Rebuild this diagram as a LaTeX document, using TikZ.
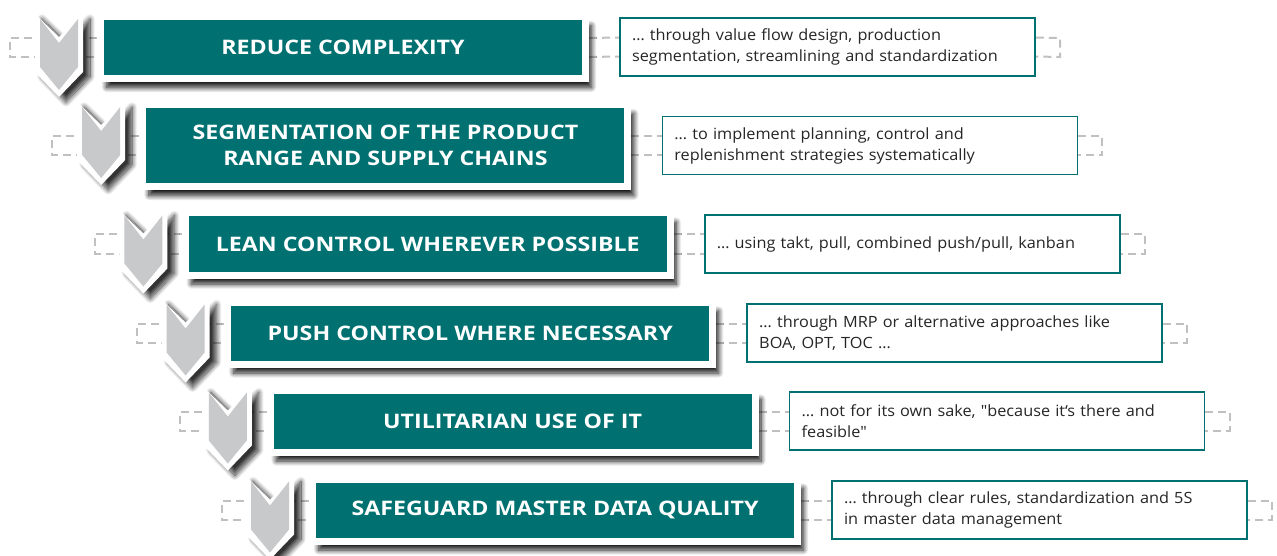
\documentclass[tikz,border=0pt]{standalone}
\usepackage{fontspec}
\setmainfont{Open Sans}
\newfontfamily\headfont[FakeStretch=1.16]{Open Sans}
\newfontfamily\notefont[FakeStretch=1.05]{Open Sans}
\usetikzlibrary{shadows.blur,backgrounds}
\definecolor{petrol}{RGB}{0,112,112}
\definecolor{chevgray}{RGB}{200,201,203}
\definecolor{bandgray}{RGB}{192,192,192}

\begin{document}
\begin{tikzpicture}[x=1pt,y=-1pt,
  title/.style={fill=petrol, draw=white, line width=7pt, minimum width=485pt, minimum height=62pt,
    text=white, align=center, font=\headfont\bfseries\fontsize{20}{26}\selectfont,
    blur shadow={shadow xshift=6pt, shadow yshift=-9pt, shadow blur radius=5pt, shadow blur steps=14, shadow opacity=90}},
  note/.style={fill=white, draw=petrol, line width=1.5pt, minimum width=415pt, minimum height=58pt,
    text width=391pt, align=left, inner xsep=12pt, text=black!85, font=\notefont\fontsize{15.5}{21}\selectfont},
  band/.style={draw=bandgray, line width=2pt, dash pattern=on 8pt off 5pt},
  chevron/.pic={
    \path[fill=white, blur shadow={shadow xshift=7pt, shadow yshift=-5pt, shadow blur radius=5pt, shadow blur steps=14, shadow opacity=80}]
      (-24,-5) -- (0,18) -- (24,-5) -- (24,53) -- (0,78) -- (-24,53) -- cycle;
    \fill[chevgray] (-19,0) -- (0,24) -- (19,0) -- (19,48) -- (0,71) -- (-19,48) -- cycle;
  }]
\useasboundingbox (0,0) rectangle (1277,556);

% row 1
\pic at (59,19) {chevron};
\node[title] (t1) at (343,47.5) {REDUCE COMPLEXITY};
\node[note] (d1) at (827.5,47) {… through value flow design, production\\segmentation, streamlining and standardization};
\coordinate (l1) at (10,47.5);
\coordinate (r1) at (1060,47.5);

% row 2
\pic at (101.2,107) {chevron};
\node[title, minimum height=82pt] (t2) at (385.4,145.5) {SEGMENTATION OF THE PRODUCT\\RANGE AND SUPPLY CHAINS};
\node[note] (d2) at (869.9,145.5) {… to implement planning, control and\\replenishment strategies systematically};
\coordinate (l2) at (52.4,145.5);
\coordinate (r2) at (1102.4,145.5);

% row 3
\pic at (143.4,215.5) {chevron};
\node[title] (t3) at (427.8,244) {LEAN CONTROL WHEREVER POSSIBLE};
\node[note] (d3) at (912.3,244) {… using takt, pull, combined push/pull, kanban};
\coordinate (l3) at (94.8,244);
\coordinate (r3) at (1144.8,244);

% row 4
\pic at (185.6,304.5) {chevron};
\node[title] (t4) at (470.2,333) {PUSH CONTROL WHERE NECESSARY};
\node[note] (d4) at (954.7,333) {… through MRP or alternative approaches like\\BOA, OPT, TOC …};
\coordinate (l4) at (137.2,333);
\coordinate (r4) at (1187.2,333);

% row 5
\pic at (227.8,392.5) {chevron};
\node[title] (t5) at (512.6,421) {UTILITARIAN USE OF IT};
\node[note] (d5) at (997.1,421) {… not for its own sake, "because it‘s there and\\feasible"};
\coordinate (l5) at (179.6,421);
\coordinate (r5) at (1229.6,421);

% row 6
\pic at (270,481.5) {chevron};
\node[title] (t6) at (555,510) {SAFEGUARD MASTER DATA QUALITY};
\node[note] (d6) at (1039.5,510) {… through clear rules, standardization and 5S\\in master data management};
\coordinate (l6) at (222,510);
\coordinate (r6) at (1272,510);

% dashed bands behind everything
\begin{scope}[on background layer]
\foreach \i in {1,...,6} {
  \draw[band] ([yshift=9.5pt]t\i.west) -- ([yshift=9.5pt]l\i) -- ([yshift=-9.5pt]l\i) -- ([yshift=-9.5pt]t\i.west);
  \draw[band] ([yshift=9.5pt]t\i.east) -- ([yshift=9.5pt]d\i.west);
  \draw[band] ([yshift=-9.5pt]t\i.east) -- ([yshift=-9.5pt]d\i.west);
  \draw[band] ([yshift=9.5pt]d\i.east) -- ([yshift=9.5pt]r\i) -- ([yshift=-9.5pt]r\i) -- ([yshift=-9.5pt]d\i.east);
}
\end{scope}
\end{tikzpicture}
\end{document}
